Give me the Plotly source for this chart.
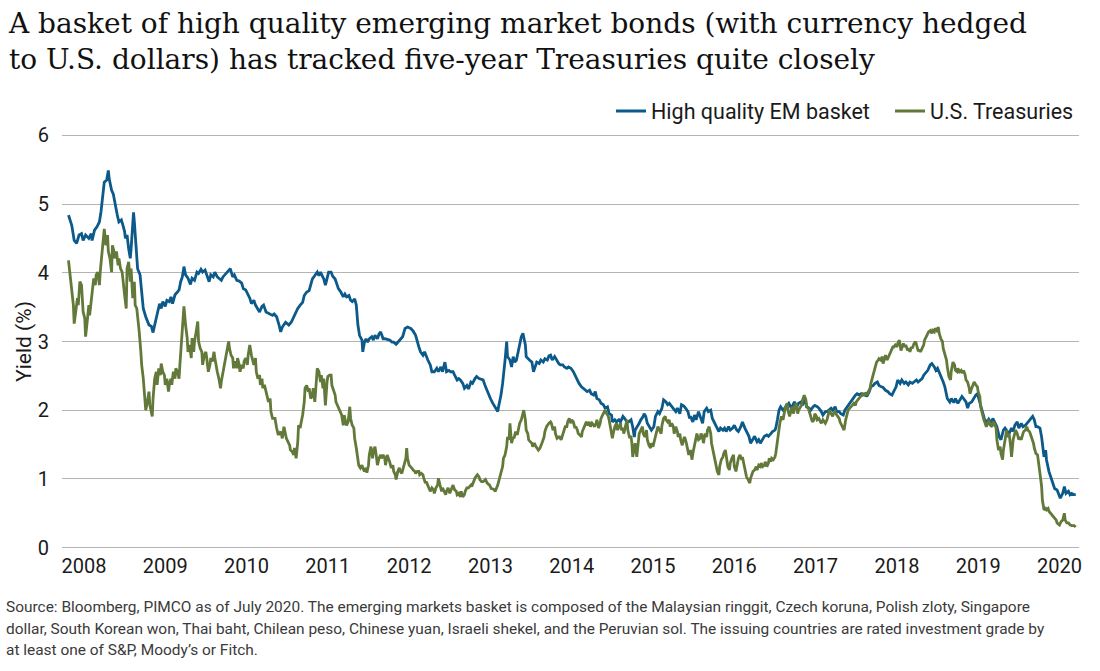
import plotly.graph_objects as go

# ---------------- data (x = decimal year as laid out on the chart's axis) ----------------
years = list(range(2008, 2021))
year_labels = [str(y) for y in years]

em_x = [
    2007.81, 2007.85, 2007.88, 2007.91, 2007.94, 2007.97, 2007.99, 2008.02, 2008.06, 2008.09,
    2008.10, 2008.13, 2008.16, 2008.19, 2008.21, 2008.23, 2008.25, 2008.28, 2008.30, 2008.31,
    2008.34, 2008.36, 2008.38, 2008.41, 2008.43, 2008.46, 2008.48, 2008.50, 2008.51, 2008.53,
    2008.55, 2008.57, 2008.58, 2008.60, 2008.61, 2008.62, 2008.64, 2008.66, 2008.69, 2008.71,
    2008.73, 2008.76, 2008.78, 2008.80, 2008.83, 2008.85, 2008.87, 2008.89, 2008.91, 2008.93,
    2008.95, 2008.97, 2009.00, 2009.02, 2009.05, 2009.07, 2009.09, 2009.12, 2009.15, 2009.17,
    2009.19, 2009.21, 2009.23, 2009.25, 2009.28, 2009.31, 2009.33, 2009.36, 2009.39, 2009.41,
    2009.44, 2009.46, 2009.49, 2009.51, 2009.54, 2009.56, 2009.59, 2009.61, 2009.64, 2009.66,
    2009.69, 2009.71, 2009.74, 2009.77, 2009.80, 2009.83, 2009.85, 2009.88, 2009.91, 2009.94,
    2009.96, 2009.99, 2010.02, 2010.04, 2010.06, 2010.09, 2010.11, 2010.14, 2010.16, 2010.19,
    2010.21, 2010.24, 2010.28, 2010.32,
    2010.34, 2010.37, 2010.40, 2010.42, 2010.44, 2010.46, 2010.48, 2010.50, 2010.52, 2010.55,
    2010.58, 2010.60, 2010.63, 2010.66, 2010.69, 2010.71, 2010.74, 2010.77, 2010.79, 2010.81,
    2010.84, 2010.87, 2010.89, 2010.91, 2010.93, 2010.95, 2010.97, 2010.99, 2011.01, 2011.04,
    2011.06, 2011.09, 2011.11, 2011.13, 2011.16, 2011.19, 2011.21, 2011.23, 2011.26, 2011.28,
    2011.30, 2011.33, 2011.35, 2011.36, 2011.37, 2011.39, 2011.42, 2011.43, 2011.45, 2011.47,
    2011.49, 2011.51, 2011.54, 2011.56, 2011.58, 2011.61, 2011.63, 2011.65, 2011.68, 2011.70,
    2011.74, 2011.76, 2011.79, 2011.81, 2011.84, 2011.86, 2011.89, 2011.92, 2011.95, 2011.98,
    2012.02, 2012.05, 2012.08, 2012.10, 2012.12, 2012.14, 2012.17, 2012.19, 2012.21, 2012.23,
    2012.26, 2012.28, 2012.31, 2012.34, 2012.36, 2012.39, 2012.41, 2012.44, 2012.46, 2012.49,
    2012.51, 2012.54, 2012.56, 2012.59, 2012.61, 2012.63, 2012.66, 2012.68, 2012.71, 2012.73,
    2012.76, 2012.78, 2012.81, 2012.83, 2012.86,
    2012.91, 2012.94, 2012.97, 2013.00, 2013.03, 2013.06, 2013.09, 2013.10, 2013.13, 2013.15,
    2013.17, 2013.18, 2013.20, 2013.21, 2013.24, 2013.26, 2013.28, 2013.30, 2013.32, 2013.34,
    2013.36, 2013.38, 2013.40, 2013.43, 2013.44, 2013.46, 2013.48, 2013.51, 2013.53, 2013.55,
    2013.57, 2013.60, 2013.62, 2013.65, 2013.67, 2013.70, 2013.72, 2013.74, 2013.76, 2013.79,
    2013.81, 2013.84, 2013.86, 2013.89, 2013.91, 2013.94, 2013.96, 2013.99, 2014.02, 2014.04,
    2014.07, 2014.09, 2014.12, 2014.14, 2014.17, 2014.19, 2014.22, 2014.24, 2014.27, 2014.29,
    2014.31, 2014.34, 2014.36, 2014.39, 2014.41, 2014.44, 2014.46, 2014.49, 2014.50, 2014.53,
    2014.55, 2014.58, 2014.60, 2014.63, 2014.65, 2014.68, 2014.70, 2014.73, 2014.75, 2014.77,
    2014.78, 2014.81, 2014.83, 2014.85, 2014.88, 2014.89, 2014.91, 2014.93, 2014.96, 2014.98,
    2015.01, 2015.03, 2015.06, 2015.08, 2015.11, 2015.13, 2015.16, 2015.18, 2015.20, 2015.23,
    2015.25, 2015.28, 2015.30, 2015.33, 2015.35, 2015.38, 2015.40, 2015.43, 2015.45,
    2015.46, 2015.49, 2015.51, 2015.53, 2015.56, 2015.58, 2015.61, 2015.63, 2015.66, 2015.68,
    2015.71, 2015.73, 2015.76, 2015.78, 2015.81, 2015.83, 2015.86, 2015.88, 2015.90, 2015.93,
    2015.95, 2015.98, 2016.00, 2016.03, 2016.05, 2016.08, 2016.10, 2016.13, 2016.15, 2016.18,
    2016.20, 2016.23, 2016.25, 2016.28, 2016.30, 2016.32, 2016.35, 2016.37, 2016.40, 2016.42,
    2016.45, 2016.47, 2016.50, 2016.51, 2016.53, 2016.55, 2016.57, 2016.60, 2016.62, 2016.65,
    2016.67, 2016.70, 2016.72, 2016.74, 2016.77, 2016.79, 2016.82, 2016.84, 2016.87, 2016.89,
    2016.92, 2016.94, 2016.97, 2016.99, 2017.02, 2017.04, 2017.07, 2017.09, 2017.12, 2017.14,
    2017.16, 2017.19, 2017.21, 2017.24, 2017.26, 2017.29, 2017.31, 2017.34, 2017.36, 2017.39,
    2017.41, 2017.44, 2017.46, 2017.49, 2017.51, 2017.54, 2017.56, 2017.58, 2017.61, 2017.63,
    2017.66, 2017.68, 2017.71, 2017.73, 2017.76, 2017.78, 2017.81, 2017.83, 2017.86, 2017.89,
    2017.91, 2017.94, 2017.96, 2017.99, 2018.01,
    2018.04, 2018.06, 2018.09, 2018.11, 2018.14, 2018.16, 2018.19, 2018.21, 2018.24, 2018.26,
    2018.29, 2018.31, 2018.33, 2018.36, 2018.38, 2018.41, 2018.43, 2018.46, 2018.48, 2018.50,
    2018.52, 2018.54, 2018.57, 2018.59, 2018.61, 2018.62, 2018.65, 2018.67, 2018.70, 2018.72,
    2018.75, 2018.77, 2018.80, 2018.82, 2018.85, 2018.87, 2018.89, 2018.92, 2018.94, 2018.97,
    2018.99, 2019.01, 2019.03, 2019.06, 2019.08, 2019.11, 2019.13, 2019.16, 2019.18, 2019.21,
    2019.23, 2019.26, 2019.28, 2019.31, 2019.33, 2019.36, 2019.38, 2019.41, 2019.43, 2019.45,
    2019.48, 2019.50, 2019.53, 2019.55, 2019.58, 2019.60, 2019.63, 2019.65, 2019.67, 2019.69,
    2019.71, 2019.73, 2019.76, 2019.78, 2019.79, 2019.81, 2019.83, 2019.84, 2019.87, 2019.89,
    2019.92, 2019.94, 2019.97, 2019.99, 2020.01, 2020.04, 2020.06, 2020.08, 2020.11, 2020.13,
    2020.15, 2020.18, 2020.20,
]
em_y = [
    4.84, 4.69, 4.47, 4.43, 4.55, 4.57, 4.47, 4.55, 4.50, 4.57,
    4.47, 4.62, 4.67, 4.74, 4.89, 5.08, 5.32, 5.35, 5.49, 5.37,
    5.20, 5.15, 5.01, 4.84, 4.74, 4.77, 4.69, 4.60, 4.50, 4.55,
    4.35, 4.21, 4.35, 4.69, 4.88, 4.74, 4.40, 4.06, 3.97, 3.72,
    3.48, 3.36, 3.31, 3.24, 3.22, 3.13, 3.24, 3.36, 3.48, 3.55,
    3.48, 3.58, 3.51, 3.60, 3.58, 3.65, 3.55, 3.68, 3.72, 3.75,
    3.87, 3.94, 4.09, 3.97, 3.92, 3.83, 3.92, 3.89, 4.01, 3.99,
    4.05, 4.01, 4.04, 3.97, 3.87, 3.97, 3.94, 4.01, 3.94, 3.92,
    3.89, 3.94, 3.98, 4.01, 4.06, 3.94, 3.97, 3.89, 3.88, 3.85,
    3.77, 3.75, 3.68, 3.63, 3.55, 3.60, 3.53, 3.46, 3.43, 3.51,
    3.53, 3.43, 3.41, 3.38,
    3.40, 3.36, 3.24, 3.14, 3.21, 3.24, 3.28, 3.26, 3.24, 3.28,
    3.36, 3.39, 3.48, 3.53, 3.57, 3.67, 3.72, 3.74, 3.84, 3.91,
    3.96, 4.01, 3.96, 4.01, 3.96, 3.91, 3.82, 3.94, 4.01, 4.01,
    3.95, 3.91, 3.84, 3.77, 3.72, 3.65, 3.69, 3.65, 3.67, 3.60,
    3.58, 3.62, 3.53, 3.38, 3.24, 3.09, 3.02, 2.85, 2.99, 3.04,
    2.99, 3.04, 3.07, 3.02, 3.09, 3.04, 3.11, 3.14, 3.04, 3.04,
    3.02, 3.02, 2.99, 2.99, 2.96, 2.99, 3.02, 3.07, 3.19, 3.21,
    3.19, 3.15, 3.09, 2.99, 2.92, 2.85, 2.80, 2.85, 2.78, 2.73,
    2.66, 2.56, 2.56, 2.61, 2.56, 2.63, 2.56, 2.70, 2.56, 2.58,
    2.56, 2.56, 2.51, 2.44, 2.46, 2.44, 2.39, 2.32, 2.36, 2.31,
    2.41, 2.39, 2.46, 2.49, 2.46,
    2.44, 2.34, 2.24, 2.17, 2.10, 2.03, 1.98, 2.05, 2.22, 2.39,
    2.58, 2.73, 3.00, 2.78, 2.73, 2.63, 2.78, 2.70, 2.73, 2.85,
    3.00, 3.07, 3.12, 2.95, 2.78, 2.75, 2.73, 2.70, 2.56, 2.63,
    2.70, 2.68, 2.73, 2.70, 2.75, 2.73, 2.79, 2.80, 2.73, 2.78,
    2.73, 2.68, 2.66, 2.66, 2.63, 2.61, 2.63, 2.61, 2.56, 2.51,
    2.44, 2.39, 2.34, 2.32, 2.29, 2.27, 2.29, 2.24, 2.22, 2.27,
    2.17, 2.15, 2.10, 2.08, 2.03, 2.05, 1.95, 1.93, 1.83, 1.86,
    1.83, 1.86, 1.83, 1.91, 1.88, 1.83, 1.83, 1.86, 1.76, 1.61,
    1.71, 1.76, 1.81, 1.86, 1.91, 1.95, 1.91, 1.81, 1.76, 1.71,
    1.76, 1.91, 1.98, 1.95, 2.03, 2.15, 2.12, 2.08, 2.10, 2.05,
    2.03, 1.98, 2.03, 1.95, 2.08, 2.06, 2.03, 1.98, 1.88,
    1.91, 1.83, 1.93, 1.86, 1.98, 1.91, 1.81, 1.98, 2.03, 1.98,
    2.00, 1.88, 1.81, 1.76, 1.69, 1.74, 1.71, 1.74, 1.69, 1.76,
    1.71, 1.74, 1.78, 1.71, 1.69, 1.76, 1.83, 1.74, 1.69, 1.62,
    1.52, 1.59, 1.62, 1.54, 1.57, 1.52, 1.57, 1.62, 1.64, 1.62,
    1.66, 1.69, 1.71, 1.74, 1.86, 2.00, 2.05, 2.00, 2.03, 2.07,
    2.10, 2.03, 2.07, 2.12, 2.05, 2.10, 2.12, 2.07, 2.17, 2.05,
    2.03, 2.00, 2.05, 2.07, 2.05, 2.03, 1.98, 1.93, 1.98, 1.98,
    2.00, 2.03, 2.00, 2.05, 1.98, 1.98, 1.95, 1.93, 2.00, 2.05,
    2.10, 2.15, 2.17, 2.22, 2.24, 2.22, 2.24, 2.22, 2.24, 2.20,
    2.27, 2.34, 2.36, 2.39, 2.41, 2.36, 2.34, 2.33, 2.29, 2.27,
    2.24, 2.22, 2.27, 2.34, 2.44,
    2.39, 2.44, 2.39, 2.41, 2.37, 2.41, 2.39, 2.41, 2.44, 2.41,
    2.44, 2.46, 2.51, 2.56, 2.58, 2.66, 2.68, 2.63, 2.58, 2.61,
    2.56, 2.49, 2.41, 2.34, 2.24, 2.17, 2.12, 2.17, 2.11, 2.17,
    2.10, 2.15, 2.20, 2.17, 2.12, 2.03, 2.10, 2.12, 2.17, 2.22,
    2.24, 2.15, 2.05, 1.93, 1.86, 1.83, 1.87, 1.81, 1.88, 1.81,
    1.76, 1.61, 1.57, 1.71, 1.74, 1.69, 1.66, 1.74, 1.69, 1.78,
    1.83, 1.74, 1.81, 1.76, 1.78, 1.81, 1.86, 1.88, 1.91, 1.86,
    1.76, 1.76, 1.74, 1.61, 1.47, 1.32, 1.42, 1.28, 1.11, 1.03,
    0.94, 0.86, 0.84, 0.77, 0.72, 0.79, 0.89, 0.79, 0.82, 0.77,
    0.79, 0.77, 0.77,
]

ust_x = [
    2007.81, 2007.83, 2007.85, 2007.87, 2007.88, 2007.90, 2007.92, 2007.93, 2007.95, 2007.97,
    2007.99, 2008.01, 2008.02, 2008.04, 2008.06, 2008.07, 2008.09, 2008.10, 2008.12, 2008.14,
    2008.15, 2008.17, 2008.19, 2008.20, 2008.22, 2008.24, 2008.25, 2008.27, 2008.29, 2008.30,
    2008.32, 2008.34, 2008.35, 2008.37, 2008.38, 2008.40, 2008.42, 2008.43, 2008.45, 2008.47,
    2008.48, 2008.50, 2008.52, 2008.53, 2008.55, 2008.57, 2008.58, 2008.60, 2008.62, 2008.63,
    2008.65, 2008.66, 2008.68, 2008.70, 2008.71, 2008.73, 2008.75, 2008.76, 2008.78, 2008.80,
    2008.81, 2008.84, 2008.85, 2008.87, 2008.89, 2008.90, 2008.92, 2008.94, 2008.95, 2008.97,
    2008.99, 2009.00, 2009.02, 2009.04, 2009.05, 2009.07, 2009.08, 2009.10, 2009.12, 2009.13,
    2009.15, 2009.17, 2009.18, 2009.20, 2009.22, 2009.23, 2009.25, 2009.27, 2009.28, 2009.30,
    2009.32, 2009.33, 2009.35, 2009.36, 2009.38, 2009.40, 2009.41, 2009.43, 2009.45, 2009.46,
    2009.48, 2009.50, 2009.51, 2009.53, 2009.55, 2009.56, 2009.58, 2009.60, 2009.61, 2009.63,
    2009.64, 2009.66, 2009.68, 2009.69, 2009.71, 2009.73, 2009.74, 2009.76, 2009.78, 2009.79,
    2009.81, 2009.83, 2009.84, 2009.86, 2009.88, 2009.89, 2009.91, 2009.92, 2009.94, 2009.96,
    2009.97, 2009.99, 2010.01, 2010.02, 2010.04, 2010.06, 2010.07, 2010.09, 2010.11, 2010.12,
    2010.14, 2010.16, 2010.17, 2010.19, 2010.20, 2010.22, 2010.24, 2010.25, 2010.27, 2010.29,
    2010.30, 2010.32,
    2010.35, 2010.37, 2010.39, 2010.42, 2010.44, 2010.46, 2010.48, 2010.49, 2010.51, 2010.53,
    2010.54, 2010.56, 2010.58, 2010.59, 2010.61, 2010.63, 2010.64, 2010.66, 2010.67, 2010.69,
    2010.71, 2010.72, 2010.74, 2010.76, 2010.77, 2010.79, 2010.81, 2010.82, 2010.84, 2010.86,
    2010.87, 2010.89, 2010.91, 2010.92, 2010.94, 2010.95, 2010.97, 2010.99, 2011.00, 2011.02,
    2011.04, 2011.05, 2011.07, 2011.09, 2011.10, 2011.12, 2011.14, 2011.15, 2011.17, 2011.19,
    2011.20, 2011.22, 2011.23, 2011.25, 2011.27, 2011.28, 2011.30, 2011.32, 2011.33, 2011.35,
    2011.37, 2011.38, 2011.40, 2011.42, 2011.43, 2011.45, 2011.47, 2011.48, 2011.50, 2011.51,
    2011.53, 2011.55, 2011.56, 2011.58, 2011.60, 2011.61, 2011.63, 2011.65, 2011.66, 2011.68,
    2011.70, 2011.71, 2011.73, 2011.75, 2011.76, 2011.78, 2011.80, 2011.81, 2011.83, 2011.84,
    2011.86, 2011.88, 2011.89, 2011.91, 2011.93, 2011.94, 2011.96, 2011.97, 2011.98, 2012.00,
    2012.02, 2012.03, 2012.05, 2012.07, 2012.08, 2012.10, 2012.12, 2012.13, 2012.15, 2012.17,
    2012.18, 2012.20, 2012.21, 2012.23, 2012.25, 2012.26, 2012.28, 2012.30, 2012.31, 2012.33,
    2012.35, 2012.36, 2012.38, 2012.40, 2012.41, 2012.43, 2012.45, 2012.46, 2012.48, 2012.50,
    2012.51, 2012.53, 2012.54, 2012.56, 2012.58, 2012.59, 2012.61, 2012.63, 2012.64, 2012.66,
    2012.68, 2012.69, 2012.71, 2012.73, 2012.74, 2012.76, 2012.77, 2012.79, 2012.81, 2012.82,
    2012.84, 2012.86, 2012.87, 2012.89,
    2012.91, 2012.94, 2012.96, 2012.99, 2013.01, 2013.04, 2013.06, 2013.09, 2013.11, 2013.13,
    2013.15, 2013.16, 2013.18, 2013.20, 2013.21, 2013.23, 2013.24, 2013.26, 2013.28, 2013.29,
    2013.31, 2013.33, 2013.34, 2013.36, 2013.38, 2013.39, 2013.41, 2013.43, 2013.44, 2013.46,
    2013.47, 2013.49, 2013.51, 2013.52, 2013.54, 2013.56, 2013.57, 2013.59, 2013.61, 2013.62,
    2013.64, 2013.66, 2013.67, 2013.69, 2013.71, 2013.72, 2013.74, 2013.75, 2013.77, 2013.79,
    2013.80, 2013.82, 2013.84, 2013.85, 2013.87, 2013.89, 2013.90, 2013.92, 2013.94, 2013.95,
    2013.97, 2013.99, 2014.00, 2014.02, 2014.04, 2014.05, 2014.07, 2014.08, 2014.10, 2014.12,
    2014.13, 2014.15, 2014.17, 2014.18, 2014.20, 2014.22, 2014.23, 2014.25, 2014.27, 2014.28,
    2014.30, 2014.31, 2014.33, 2014.35, 2014.36, 2014.38, 2014.40, 2014.41, 2014.43, 2014.45,
    2014.46, 2014.48, 2014.50, 2014.51, 2014.53, 2014.55, 2014.56, 2014.58, 2014.60, 2014.61,
    2014.63, 2014.64, 2014.66, 2014.68, 2014.69, 2014.71, 2014.73, 2014.74, 2014.75, 2014.77,
    2014.78, 2014.80, 2014.82, 2014.83, 2014.85, 2014.87, 2014.88, 2014.90, 2014.92, 2014.93,
    2014.95, 2014.97, 2014.98, 2015.00, 2015.02, 2015.03, 2015.05, 2015.06, 2015.08, 2015.10,
    2015.11, 2015.13, 2015.15, 2015.16, 2015.18, 2015.20, 2015.21, 2015.23, 2015.25, 2015.26,
    2015.28, 2015.30, 2015.31, 2015.33, 2015.34, 2015.36, 2015.38, 2015.39, 2015.41, 2015.43,
    2015.44,
    2015.46, 2015.48, 2015.49, 2015.51, 2015.53, 2015.54, 2015.56, 2015.58, 2015.59, 2015.61,
    2015.62, 2015.64, 2015.66, 2015.67, 2015.69, 2015.71, 2015.72, 2015.74, 2015.76, 2015.77,
    2015.79, 2015.81, 2015.82, 2015.84, 2015.86, 2015.87, 2015.89, 2015.90, 2015.92, 2015.94,
    2015.95, 2015.97, 2015.99, 2016.00, 2016.02, 2016.04, 2016.05, 2016.07, 2016.09, 2016.10,
    2016.12, 2016.14, 2016.15, 2016.17, 2016.19, 2016.20, 2016.22, 2016.23, 2016.25, 2016.27,
    2016.28, 2016.30, 2016.32, 2016.33, 2016.35, 2016.37, 2016.38, 2016.40, 2016.42, 2016.43,
    2016.45, 2016.46, 2016.48, 2016.50, 2016.51, 2016.53, 2016.55, 2016.56, 2016.58, 2016.60,
    2016.61, 2016.63, 2016.65, 2016.66, 2016.68, 2016.70, 2016.71, 2016.73, 2016.74, 2016.76,
    2016.78, 2016.79, 2016.81, 2016.83, 2016.84, 2016.86, 2016.88, 2016.89, 2016.91, 2016.93,
    2016.94, 2016.96, 2016.98, 2016.99, 2017.01, 2017.02, 2017.04, 2017.06, 2017.07, 2017.09,
    2017.11, 2017.12, 2017.14, 2017.16, 2017.17, 2017.19, 2017.21, 2017.22, 2017.24, 2017.26,
    2017.27, 2017.29, 2017.30, 2017.32, 2017.34, 2017.35, 2017.37, 2017.39, 2017.40, 2017.42,
    2017.44, 2017.45, 2017.47, 2017.49, 2017.50, 2017.52, 2017.54, 2017.55, 2017.57, 2017.58,
    2017.60, 2017.62, 2017.63, 2017.65, 2017.67, 2017.68, 2017.70, 2017.72, 2017.73, 2017.75,
    2017.77, 2017.78, 2017.80, 2017.82, 2017.83, 2017.85, 2017.86, 2017.88, 2017.90, 2017.91,
    2017.93, 2017.95, 2017.96, 2017.98, 2018.00, 2018.01,
    2018.03, 2018.05, 2018.06, 2018.08, 2018.10, 2018.11, 2018.13, 2018.15, 2018.16, 2018.18,
    2018.19, 2018.21, 2018.23, 2018.24, 2018.26, 2018.28, 2018.29, 2018.31, 2018.33, 2018.34,
    2018.36, 2018.38, 2018.39, 2018.41, 2018.43, 2018.44, 2018.46, 2018.47, 2018.49, 2018.51,
    2018.52, 2018.54, 2018.56, 2018.57, 2018.59, 2018.61, 2018.62, 2018.64, 2018.66, 2018.67,
    2018.69, 2018.71, 2018.72, 2018.74, 2018.75, 2018.77, 2018.79, 2018.80, 2018.82, 2018.84,
    2018.85, 2018.87, 2018.89, 2018.90, 2018.92, 2018.94, 2018.95, 2018.97, 2018.99, 2019.00,
    2019.02, 2019.03, 2019.05, 2019.07, 2019.08, 2019.10, 2019.12, 2019.13, 2019.15, 2019.17,
    2019.18, 2019.20, 2019.22, 2019.23, 2019.25, 2019.27, 2019.28, 2019.30, 2019.31, 2019.33,
    2019.35, 2019.36, 2019.38, 2019.40, 2019.41, 2019.43, 2019.45, 2019.46, 2019.48, 2019.50,
    2019.51, 2019.53, 2019.55, 2019.56, 2019.58, 2019.60, 2019.61, 2019.63, 2019.64, 2019.66,
    2019.68, 2019.69, 2019.71, 2019.73, 2019.74, 2019.76, 2019.78, 2019.79, 2019.81, 2019.83,
    2019.84, 2019.86, 2019.87, 2019.89, 2019.91, 2019.92, 2019.94, 2019.96, 2019.97, 2020.00,
    2020.02, 2020.04, 2020.06, 2020.07, 2020.09, 2020.11, 2020.13, 2020.15, 2020.18, 2020.20,
]
ust_y = [
    4.18, 3.97, 3.77, 3.53, 3.26, 3.43, 3.63, 3.53, 3.87, 3.82,
    3.43, 3.34, 3.07, 3.29, 3.53, 3.38, 3.58, 3.72, 3.92, 3.82,
    3.97, 4.01, 3.82, 4.01, 4.26, 4.45, 4.64, 4.40, 4.55, 4.31,
    4.21, 4.01, 4.40, 4.31, 4.21, 4.31, 4.11, 4.21, 4.06, 4.01,
    3.87, 3.68, 3.48, 4.06, 4.16, 3.87, 4.06, 3.63, 3.87, 3.53,
    3.48, 3.38, 3.14, 2.85, 2.66, 2.46, 2.22, 2.00, 2.12, 2.27,
    2.08, 1.91, 2.17, 2.46, 2.56, 2.37, 2.61, 2.51, 2.68, 2.56,
    2.51, 2.37, 2.46, 2.27, 2.37, 2.46, 2.37, 2.56, 2.46, 2.61,
    2.56, 2.46, 2.66, 3.05, 3.29, 3.51, 3.24, 3.05, 2.85, 2.95,
    2.76, 3.05, 2.85, 3.00, 3.14, 3.29, 3.00, 2.90, 2.85, 2.66,
    2.80, 2.85, 2.76, 2.56, 2.66, 2.76, 2.71, 2.85, 2.76, 2.61,
    2.56, 2.46, 2.32, 2.42, 2.56, 2.66, 2.76, 2.90, 3.00, 2.90,
    2.80, 2.76, 2.61, 2.71, 2.61, 2.76, 2.66, 2.56, 2.66, 2.61,
    2.71, 2.76, 2.66, 2.80, 2.95, 2.80, 2.76, 2.66, 2.76, 2.56,
    2.46, 2.51, 2.37, 2.46, 2.32, 2.37, 2.27, 2.22, 2.12, 2.17,
    1.98, 1.88,
    1.88, 1.74, 1.64, 1.69, 1.59, 1.76, 1.64, 1.59, 1.54, 1.49,
    1.42, 1.40, 1.35, 1.45, 1.30, 1.54, 1.78, 1.74, 1.81, 1.93,
    2.12, 2.32, 2.36, 2.27, 2.32, 2.17, 2.22, 2.32, 2.12, 2.41,
    2.61, 2.56, 2.41, 2.51, 2.32, 2.46, 2.07, 2.41, 2.49, 2.51,
    2.51, 2.36, 2.27, 2.22, 2.12, 2.07, 2.03, 1.98, 1.93, 1.78,
    1.93, 1.83, 1.78, 1.83, 2.05, 1.88, 1.78, 1.74, 1.59, 1.45,
    1.30, 1.20, 1.16, 1.20, 1.16, 1.11, 1.16, 1.09, 1.20, 1.35,
    1.47, 1.30, 1.40, 1.47, 1.30, 1.20, 1.30, 1.35, 1.30, 1.35,
    1.30, 1.20, 1.35, 1.30, 1.25, 1.16, 1.20, 1.11, 1.06, 0.99,
    1.11, 1.16, 1.11, 1.08, 1.16, 1.20, 1.30, 1.45, 1.30, 1.20,
    1.18, 1.16, 1.13, 1.11, 1.08, 1.11, 1.11, 1.06, 1.08, 1.06,
    1.01, 0.94, 0.96, 0.91, 0.87, 0.82, 0.87, 0.84, 0.79, 0.87,
    0.91, 1.01, 0.91, 0.82, 0.87, 0.82, 0.77, 0.82, 0.87, 0.79,
    0.82, 0.87, 0.91, 0.84, 0.82, 0.77, 0.79, 0.74, 0.82, 0.74,
    0.77, 0.82, 0.87, 0.87, 0.89, 0.91, 0.89, 0.96, 1.01, 1.03,
    1.06, 1.03, 0.99, 0.96,
    0.96, 0.99, 0.94, 0.91, 0.86, 0.85, 0.82, 0.91, 0.99, 1.08,
    1.18, 1.30, 1.35, 1.47, 1.61, 1.57, 1.81, 1.52, 1.61, 1.59,
    1.69, 1.64, 1.71, 1.81, 1.86, 1.91, 2.00, 1.86, 1.71, 1.66,
    1.57, 1.54, 1.52, 1.47, 1.52, 1.47, 1.45, 1.42, 1.45, 1.49,
    1.54, 1.61, 1.69, 1.76, 1.81, 1.81, 1.83, 1.81, 1.71, 1.76,
    1.66, 1.59, 1.61, 1.61, 1.57, 1.64, 1.69, 1.76, 1.76, 1.83,
    1.88, 1.81, 1.86, 1.83, 1.74, 1.76, 1.71, 1.66, 1.64, 1.61,
    1.69, 1.74, 1.78, 1.83, 1.78, 1.83, 1.76, 1.81, 1.78, 1.76,
    1.81, 1.86, 1.74, 1.81, 1.88, 1.93, 1.98, 2.00, 1.95, 1.91,
    1.86, 1.74, 1.59, 1.66, 1.76, 1.81, 1.71, 1.76, 1.81, 1.71,
    1.74, 1.66, 1.76, 1.86, 1.71, 1.61, 1.61, 1.52, 1.32, 1.47,
    1.52, 1.32, 1.57, 1.66, 1.71, 1.76, 1.66, 1.61, 1.71, 1.57,
    1.49, 1.45, 1.52, 1.47, 1.57, 1.61, 1.71, 1.76, 1.71, 1.66,
    1.78, 1.88, 1.91, 1.86, 1.83, 1.86, 1.76, 1.81, 1.76, 1.66,
    1.76, 1.69, 1.61, 1.66, 1.57, 1.49, 1.59, 1.61, 1.52, 1.42,
    1.35,
    1.42, 1.28, 1.37, 1.47, 1.61, 1.66, 1.57, 1.59, 1.66, 1.61,
    1.52, 1.66, 1.61, 1.71, 1.76, 1.66, 1.52, 1.42, 1.32, 1.23,
    1.11, 1.06, 1.18, 1.28, 1.32, 1.37, 1.42, 1.32, 1.18, 1.13,
    1.23, 1.30, 1.35, 1.18, 1.11, 1.23, 1.30, 1.35, 1.28, 1.32,
    1.20, 1.08, 1.03, 0.99, 0.94, 1.01, 1.08, 1.11, 1.13, 1.18,
    1.13, 1.20, 1.18, 1.23, 1.18, 1.20, 1.25, 1.18, 1.23, 1.30,
    1.25, 1.30, 1.28, 1.32, 1.37, 1.57, 1.76, 1.81, 1.91, 1.86,
    1.93, 2.05, 2.10, 2.00, 1.91, 2.00, 2.05, 1.95, 2.05, 2.10,
    1.95, 2.00, 2.05, 2.08, 2.15, 2.22, 2.15, 2.05, 2.03, 1.93,
    1.91, 1.83, 1.86, 1.95, 1.91, 1.86, 1.88, 1.83, 1.81, 1.86,
    1.83, 1.81, 1.86, 1.95, 2.00, 1.95, 1.91, 1.95, 1.98, 1.93,
    1.91, 1.88, 1.83, 1.78, 1.74, 1.71, 1.86, 1.95, 2.00, 2.03,
    2.05, 2.07, 2.10, 2.07, 2.12, 2.15, 2.17, 2.20, 2.22, 2.24,
    2.22, 2.24, 2.22, 2.27, 2.32, 2.39, 2.49, 2.58, 2.63, 2.70,
    2.73, 2.75, 2.73, 2.78, 2.68, 2.75, 2.80, 2.73, 2.78, 2.83,
    2.87, 2.92, 2.92, 2.95, 2.92, 2.97,
    3.02, 2.87, 2.90, 2.97, 2.92, 2.95, 2.87, 2.90, 2.85, 2.92,
    2.90, 2.97, 3.00, 2.95, 2.87, 2.87, 2.85, 2.90, 2.95, 3.02,
    3.07, 3.12, 3.14, 3.16, 3.12, 3.16, 3.14, 3.19, 3.16, 3.21,
    3.12, 3.04, 3.00, 2.90, 2.83, 2.73, 2.63, 2.49, 2.44, 2.58,
    2.70, 2.66, 2.58, 2.56, 2.61, 2.56, 2.58, 2.54, 2.58, 2.51,
    2.44, 2.41, 2.32, 2.24, 2.32, 2.39, 2.41, 2.37, 2.34, 2.27,
    2.20, 2.05, 1.93, 1.86, 1.83, 1.76, 1.81, 1.86, 1.78, 1.76,
    1.83, 1.81, 1.74, 1.57, 1.42, 1.47, 1.37, 1.28, 1.42, 1.57,
    1.71, 1.61, 1.66, 1.47, 1.32, 1.57, 1.66, 1.71, 1.66, 1.57,
    1.61, 1.57, 1.66, 1.69, 1.71, 1.76, 1.71, 1.69, 1.66, 1.59,
    1.52, 1.45, 1.37, 1.35, 1.28, 1.08, 0.89, 0.69, 0.55, 0.57,
    0.55, 0.57, 0.53, 0.50, 0.48, 0.45, 0.43, 0.40, 0.36, 0.33,
    0.38, 0.40, 0.50, 0.40, 0.36, 0.36, 0.33, 0.32, 0.32, 0.30,
]

series_names = ["High quality EM basket", "U.S. Treasuries"]
series_colors = ["#0b5a8a", "#62793a"]

title_text = ("A basket of high quality emerging market bonds (with currency hedged<br>"
              "to U.S. dollars) has tracked five-year Treasuries quite closely")
source_lines = [
    "Source: Bloomberg, PIMCO as of July 2020. The emerging markets basket is composed of the Malaysian ringgit, Czech koruna, Polish zloty, Singapore",
    "dollar, South Korean won, Thai baht, Chilean peso, Chinese yuan, Israeli shekel, and the Peruvian sol. The issuing countries are rated investment grade by",
    "at least one of S&amp;P, Moody’s or Fitch.",
]

# ---------------- figure ----------------
W, H = 1100, 671
ML, MR, MT, MB = 62, 21, 134, 122
PW, PH = W - ML - MR, H - MT - MB

fig = go.Figure()
for name, xs, ys, col in [(series_names[0], em_x, em_y, series_colors[0]),
                          (series_names[1], ust_x, ust_y, series_colors[1])]:
    fig.add_trace(go.Scatter(x=xs, y=ys, mode="lines", name=name,
                             line=dict(color=col, width=2.8)))

sans = "Roboto, 'Liberation Sans', sans-serif"

fig.update_layout(
    width=W, height=H,
    margin=dict(l=ML, r=MR, t=MT, b=MB, autoexpand=False),
    paper_bgcolor="white", plot_bgcolor="white",
    font=dict(family=sans, color="#1a1a1a", size=18),
    legend=dict(orientation="h", x=(611 - ML) / PW, xanchor="left", y=1 + 23 / PH, yanchor="middle",
                font=dict(size=21.5, color="#1a1a1a"), bgcolor="rgba(0,0,0,0)",
                itemwidth=30, tracegroupgap=0, entrywidthmode="pixels", entrywidth=234),
    showlegend=True,
)
fig.update_xaxes(range=[2007.73, 2020.24], tickmode="array", tickvals=years, ticktext=year_labels,
                 showgrid=False, zeroline=False, showline=False, ticks="", automargin=False,
                 ticklabelstandoff=3, tickfont=dict(size=20, color="#1a1a1a"))
fig.update_yaxes(range=[-0.02, 6.02], tickmode="array", tickvals=[0, 1, 2, 3, 4, 5, 6],
                 showgrid=True, gridcolor="#b4b4b4", gridwidth=1, zeroline=False,
                 showline=False, ticks="", ticklabelstandoff=12, automargin=False,
                 tickfont=dict(size=20, color="#1a1a1a"),
                 title=dict(text="Yield (%)", font=dict(size=21, color="#1a1a1a"), standoff=0))

# title
fig.add_annotation(text=title_text, xref="paper", yref="paper",
                   x=-56 / PW, y=1 + (MT - 5) / PH, xanchor="left", yanchor="top", align="left",
                   showarrow=False,
                   font=dict(family="'DejaVu Serif', serif", size=28, color="#111111"))
# source note, one annotation per line
for i, line in enumerate(source_lines):
    y_px = 607 + i * 21.5
    fig.add_annotation(text=line, xref="paper", yref="paper",
                       x=-58 / PW, y=-(y_px - (H - MB)) / PH, xanchor="left", yanchor="middle",
                       align="left", showarrow=False,
                       font=dict(family=sans, size=15.45, color="#3a3a3a"))

fig.write_html("out.html", config={"displayModeBar": False},
               post_script="document.body.style.margin='0px';")
